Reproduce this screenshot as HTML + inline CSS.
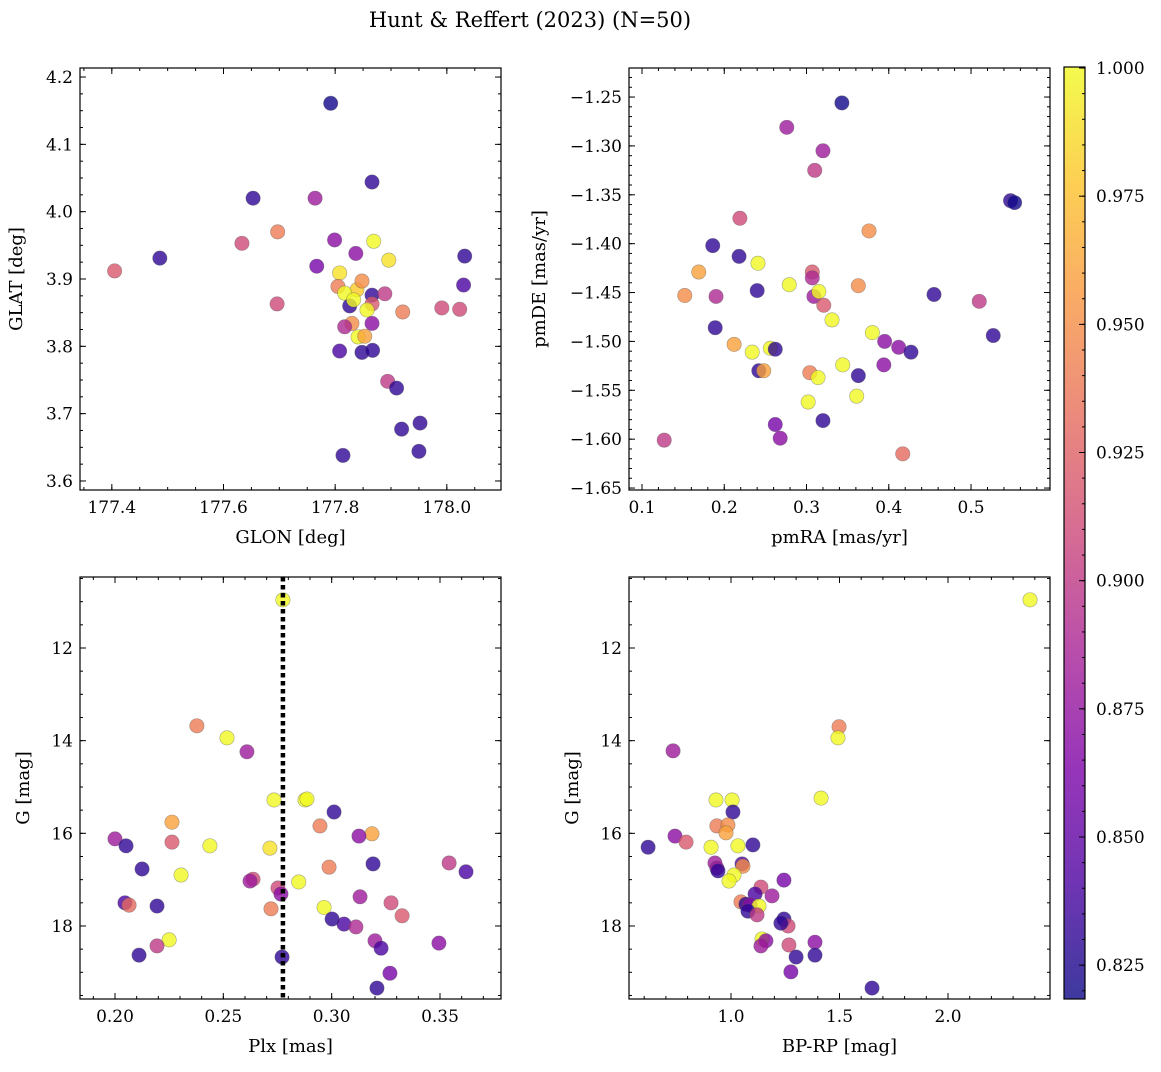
<!DOCTYPE html>
<html><head><meta charset="utf-8"><style>
body{margin:0;background:#fff}
svg text{font-family:"DejaVu Serif","Liberation Serif",serif;fill:#000}
</style></head><body>
<svg id="fig" width="1161" height="1067" xmlns="http://www.w3.org/2000/svg">
<text x="530" y="27" font-size="21" text-anchor="middle">Hunt &amp; Reffert (2023) (N=50)</text>
</svg>
<script>
// ---- data (per panel: x values, y values, membership probability) ----
const p1x=[177.792,177.653,177.866,177.764,177.486,177.633,177.697,177.405,177.799,177.869,177.837,177.896,178.032,177.767,177.808,178.030,177.696,177.805,177.839,177.848,177.817,177.826,177.866,177.889,177.866,177.833,177.857,177.991,178.023,177.921,177.830,177.817,177.866,177.841,177.853,177.808,177.848,177.867,177.894,177.910,177.952,177.919,177.950,177.814];
const p1y=[4.161,4.020,4.044,4.020,3.931,3.953,3.970,3.912,3.958,3.956,3.938,3.928,3.934,3.919,3.909,3.891,3.863,3.889,3.884,3.897,3.879,3.860,3.876,3.878,3.863,3.869,3.854,3.857,3.855,3.851,3.834,3.829,3.834,3.814,3.815,3.793,3.791,3.794,3.748,3.738,3.686,3.677,3.644,3.638];
const p1c=[0.82,0.83,0.83,0.88,0.83,0.91,0.94,0.92,0.87,1.0,0.87,0.99,0.83,0.86,0.99,0.84,0.91,0.94,0.98,0.95,1.0,0.83,0.83,0.9,0.92,1.0,1.0,0.91,0.91,0.94,0.95,0.89,0.87,1.0,0.96,0.84,0.83,0.83,0.9,0.83,0.83,0.83,0.83,0.83];
const p2x=[0.343,0.276,0.320,0.310,0.548,0.553,0.219,0.376,0.186,0.218,0.241,0.169,0.307,0.307,0.152,0.190,0.240,0.279,0.309,0.315,0.321,0.363,0.455,0.510,0.331,0.189,0.380,0.527,0.212,0.256,0.262,0.395,0.412,0.427,0.234,0.344,0.394,0.242,0.248,0.304,0.314,0.363,0.361,0.302,0.262,0.320,0.268,0.127,0.417];
const p2y=[-1.256,-1.281,-1.305,-1.325,-1.356,-1.358,-1.374,-1.387,-1.402,-1.413,-1.420,-1.429,-1.429,-1.435,-1.453,-1.454,-1.448,-1.442,-1.454,-1.449,-1.463,-1.443,-1.452,-1.459,-1.478,-1.486,-1.491,-1.494,-1.503,-1.507,-1.508,-1.500,-1.506,-1.511,-1.511,-1.524,-1.524,-1.530,-1.530,-1.532,-1.537,-1.535,-1.556,-1.562,-1.585,-1.581,-1.599,-1.601,-1.615];
const p2c=[0.82,0.88,0.88,0.9,0.83,0.82,0.91,0.95,0.83,0.83,1.0,0.96,0.92,0.89,0.95,0.89,0.83,1.0,0.88,1.0,0.92,0.95,0.83,0.9,1.0,0.83,1.0,0.83,0.96,1.0,0.83,0.87,0.87,0.83,1.0,1.0,0.87,0.83,0.96,0.94,1.0,0.83,1.0,1.0,0.86,0.83,0.87,0.9,0.93];
const p3x=[0.2775,0.2378,0.2517,0.2609,0.2734,0.2877,0.2886,0.3011,0.2263,0.2946,0.3186,0.3126,0.2000,0.2263,0.2051,0.2438,0.2715,0.3191,0.3542,0.2125,0.2988,0.3620,0.2305,0.2637,0.2623,0.2848,0.2752,0.2766,0.3131,0.2046,0.2065,0.2194,0.2720,0.2965,0.3274,0.3325,0.3002,0.3057,0.3112,0.2250,0.2194,0.3200,0.3228,0.3495,0.2111,0.2771,0.3269,0.3209];
const p3y=[10.96,13.68,13.94,14.24,15.28,15.28,15.26,15.54,15.76,15.84,16.01,16.06,16.12,16.19,16.27,16.27,16.32,16.66,16.64,16.77,16.73,16.83,16.90,16.99,17.03,17.05,17.18,17.31,17.37,17.50,17.55,17.57,17.63,17.60,17.50,17.78,17.85,17.96,18.02,18.30,18.43,18.32,18.48,18.37,18.63,18.67,19.02,19.34];
const p3c=[1.0,0.94,1.0,0.88,1.0,1.0,1.0,0.83,0.96,0.94,0.96,0.87,0.88,0.92,0.83,1.0,0.99,0.83,0.9,0.83,0.94,0.84,1.0,0.91,0.88,1.0,0.91,0.87,0.88,0.84,0.93,0.83,0.94,1.0,0.91,0.92,0.83,0.84,0.89,1.0,0.9,0.88,0.84,0.87,0.83,0.83,0.86,0.83];
const p4x=[2.378,1.498,1.493,0.733,1.415,0.931,1.005,1.009,0.935,0.986,0.977,0.742,0.793,0.618,0.908,1.032,1.101,0.926,1.051,1.055,0.935,0.940,1.014,0.991,1.244,1.138,1.189,1.111,1.046,1.069,1.088,1.129,1.078,1.120,1.244,1.263,1.230,1.143,1.161,1.138,1.267,1.387,1.387,1.300,1.276,1.650];
const p4y=[10.96,13.70,13.94,14.22,15.24,15.28,15.28,15.54,15.84,15.82,15.99,16.06,16.19,16.30,16.30,16.27,16.25,16.64,16.66,16.71,16.75,16.81,16.90,17.03,17.01,17.16,17.35,17.31,17.48,17.53,17.55,17.57,17.68,17.76,17.85,18.00,17.94,18.28,18.32,18.43,18.41,18.35,18.63,18.67,18.99,19.34];
const p4c=[1.0,0.94,1.0,0.88,1.0,1.0,1.0,0.83,0.94,0.95,0.96,0.87,0.92,0.83,1.0,1.0,0.83,0.88,0.84,0.95,0.88,0.83,1.0,1.0,0.86,0.91,0.88,0.84,0.94,0.83,0.87,1.0,0.83,0.9,0.83,0.91,0.83,1.0,0.87,0.88,0.91,0.87,0.83,0.83,0.86,0.83];
const cbTicks=[0.825,0.85,0.875,0.9,0.925,0.95,0.975,1.0];
const plxLine=0.2775;

const NS='http://www.w3.org/2000/svg';
const svg=document.getElementById('fig');
function mk(tag,attrs,parent){const e=document.createElementNS(NS,tag);for(const k in attrs)e.setAttribute(k,attrs[k]);(parent||svg).appendChild(e);return e;}
const CMIN=0.8184,CMAX=1.0002;
const stops=[[13,8,135],[76,2,161],[126,3,168],[168,34,150],[204,71,120],[230,108,92],[248,149,64],[253,195,40],[240,249,33]];
function cmap(v){let t=(v-CMIN)/(CMAX-CMIN);t=Math.max(0,Math.min(1,t));const f=t*8;const i=Math.min(7,Math.floor(f));const r=f-i;const a=stops[i],b=stops[i+1];return 'rgb('+[0,1,2].map(k=>Math.round(a[k]+(b[k]-a[k])*r)).join(',')+')';}
function fmt(v,d){return (v<0?'\u2212':'')+Math.abs(v).toFixed(d);}

function panel(name,box,xr,yr,xmaj,xmin,ymaj,ymin,xd,yd,xs,ys,cs,xl,yl,ylx,negLabels){
  const [L,T,R,B]=box;
  const sx=v=>L+(v-xr[0])/(xr[1]-xr[0])*(R-L);
  const sy=v=>T+(yr[1]-v)/(yr[1]-yr[0])*(B-T);
  const g=mk('g',{});
  
  
  const pts=mk('g',{},g);
  for(let i=0;i<xs.length;i++){
    const c=mk('circle',{cx:sx(xs[i]),cy:sy(ys[i]),r:7.2,fill:cmap(cs[i]),'fill-opacity':0.8,stroke:'#555','stroke-opacity':0.5,'stroke-width':0.6},pts);
    
    
  }
  const ticks=(lo,hi,step)=>{const a=[];const s=Math.ceil(lo/step-1e-9);for(let k=s;k*step<=hi+1e-9;k++)a.push(+(k*step).toFixed(6));return a;};
  ticks(xr[0],xr[1],xmin).forEach(v=>{const x=sx(v);mk('line',{x1:x,x2:x,y1:B,y2:B-3,stroke:'#000'},g);mk('line',{x1:x,x2:x,y1:T,y2:T+3,stroke:'#000'},g);});
  ticks(yr[0],yr[1],ymin).forEach(v=>{const y=sy(v);mk('line',{x1:L,x2:L+3,y1:y,y2:y,stroke:'#000'},g);mk('line',{x1:R,x2:R-3,y1:y,y2:y,stroke:'#000'},g);});
  ticks(xr[0],xr[1],xmaj).forEach(v=>{const x=sx(v);mk('line',{x1:x,x2:x,y1:B,y2:B-6,stroke:'#000'},g);mk('line',{x1:x,x2:x,y1:T,y2:T+6,stroke:'#000'},g);
    const t=mk('text',{x:x,y:B+23,'font-size':17,'text-anchor':'middle'},g);t.textContent=fmt(v,xd);
    
    });
  ticks(yr[0],yr[1],ymaj).forEach(v=>{const y=sy(v);mk('line',{x1:L,x2:L+6,y1:y,y2:y,stroke:'#000'},g);mk('line',{x1:R,x2:R-6,y1:y,y2:y,stroke:'#000'},g);
    const t=mk('text',{x:L-7,y:y+6,'font-size':17,'text-anchor':'end'},g);t.textContent=negLabels?fmt(-v,yd):fmt(v,yd);
    
    });
  mk('rect',{x:L,y:T,width:R-L,height:B-T,fill:'none',stroke:'#000','stroke-width':1.2},g);
  const xt=mk('text',{x:(L+R)/2,y:B+53,'font-size':18,'text-anchor':'middle'},g);xt.textContent=xl;
  
  
  const yt=mk('text',{x:0,y:0,'font-size':18,'text-anchor':'middle',transform:'translate('+ylx+','+(T+B)/2+') rotate(-90)'},g);yt.textContent=yl;
  
  
  return {sx,sy,g};
}
panel('panel-glon-glat',[80,68,501,490],[177.343,178.097],[3.5866,4.2134],0.2,0.05,0.1,0.025,1,1,p1x,p1y,p1c,'GLON [deg]','GLAT [deg]',22,false);
panel('panel-pm',[629,68,1050,490],[0.0842,0.596],[-1.652,-1.2203],0.1,0.02,0.05,0.01,1,2,p2x,p2y,p2c,'pmRA [mas/yr]','pmDE [mas/yr]',545,false);
const P3=panel('panel-plx-g',[80,577,501,999],[0.18385,0.37815],[-19.576,-10.4675],0.05,0.01,2,0.5,2,0,p3x,p3y.map(v=>-v),p3c,'Plx [mas]','G [mag]',29,true);
panel('panel-cmd',[629,577,1050,999],[0.530,2.470],[-19.576,-10.4675],0.5,0.1,2,0.5,1,0,p4x,p4y.map(v=>-v),p4c,'BP-RP [mag]','G [mag]',578,true);
const vl=mk('line',{x1:P3.sx(plxLine),x2:P3.sx(plxLine),y1:577,y2:999,stroke:'#000','stroke-width':4.5,'stroke-dasharray':'4.5,3.5'},P3.g);


// colorbar
const cb=mk('g',{});


const defs=mk('defs',{},svg);
const lg=mk('linearGradient',{id:'cbg',x1:0,y1:1,x2:0,y2:0},defs);
stops.forEach((s,i)=>mk('stop',{offset:i/8,'stop-color':'rgb('+s.join(',')+')','stop-opacity':0.8},lg));
const CT=67,CB=999,CL=1064,CR=1085;
const cy=v=>CB-(v-CMIN)/(CMAX-CMIN)*(CB-CT);
mk('rect',{x:CL,y:CT,width:CR-CL,height:CB-CT,fill:'url(#cbg)',stroke:'#000','stroke-width':1.2},cb);
for(let v=0.82;v<=1.0001;v+=0.005){const y=cy(v);mk('line',{x1:CR,x2:CR-3,y1:y,y2:y,stroke:'#000'},cb);}
cbTicks.forEach(v=>{const y=cy(v);mk('line',{x1:CR,x2:CR-6,y1:y,y2:y,stroke:'#000'},cb);
  const t=mk('text',{x:CR+11,y:y+6,'font-size':17},cb);t.textContent=v.toFixed(3);
  
  });
</script>
</body></html>
